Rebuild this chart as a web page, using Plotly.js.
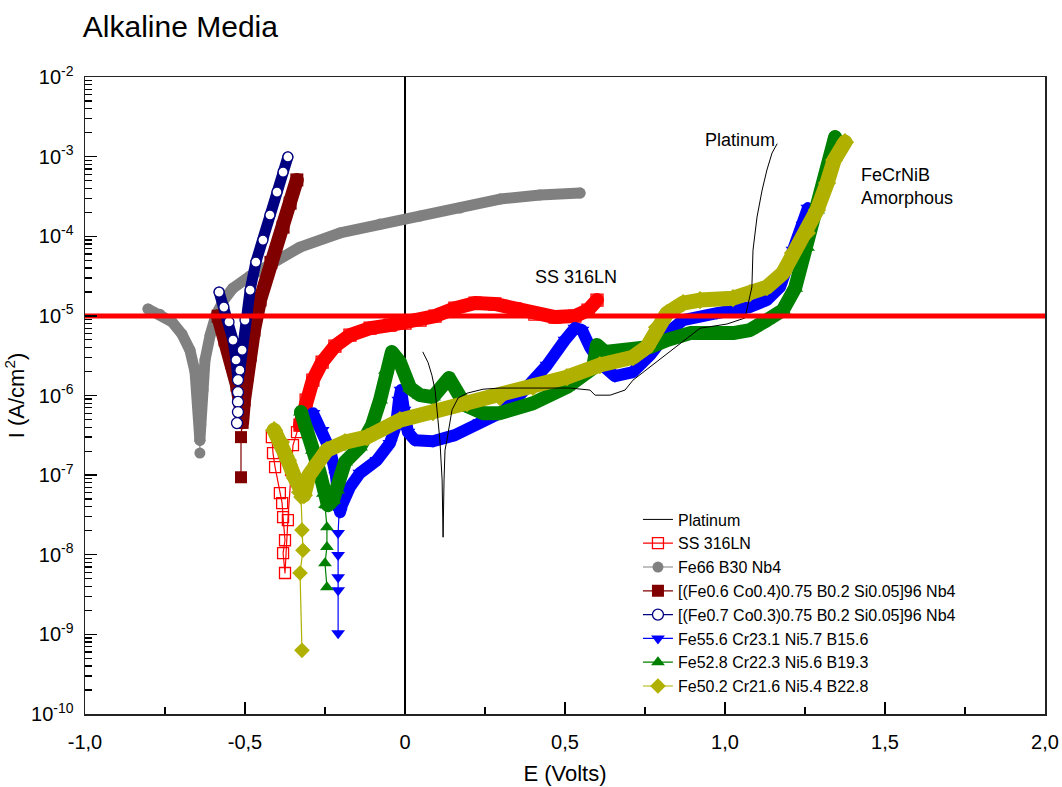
<!DOCTYPE html>
<html>
<head>
<meta charset="utf-8">
<script src="https://cdn.plot.ly/plotly-3.0.1.min.js"></script>
<style>
  html, body { margin: 0; padding: 0; background: #fff; }
  #chart { width: 1062px; height: 787px; }
  .scatterlayer .js-line { stroke-linejoin: round; stroke-linecap: round; }
</style>
</head>
<body>
<div id="chart"></div>
<script>
// ---------- data (E in volts, I in A/cm^2) ----------
const xTickVals = [-1, -0.5, 0, 0.5, 1, 1.5, 2];
const xTickText = ["-1,0", "-0,5", "0", "0,5", "1,0", "1,5", "2,0"];
const yTickVals = [1e-10, 1e-9, 1e-8, 1e-7, 1e-6, 1e-5, 1e-4, 1e-3, 1e-2];
const yTickText = ["10<sup>-10</sup>", "10<sup>-9</sup>", "10<sup>-8</sup>", "10<sup>-7</sup>", "10<sup>-6</sup>",
                   "10<sup>-5</sup>", "10<sup>-4</sup>", "10<sup>-3</sup>", "10<sup>-2</sup>"];

const seriesNames = ["Platinum", "SS 316LN", "Fe66 B30 Nb4",
  "[(Fe0.6 Co0.4)0.75 B0.2 Si0.05]96 Nb4", "[(Fe0.7 Co0.3)0.75 B0.2 Si0.05]96 Nb4",
  "Fe55.6 Cr23.1 Ni5.7 B15.6", "Fe52.8 Cr22.3 Ni5.6 B19.3", "Fe50.2 Cr21.6 Ni5.4 B22.8"];

// Platinum
const E_pt = [0.056,0.072,0.084,0.094,0.1,0.109,0.116,0.119,0.122,0.125,0.131,0.147,0.166,0.194,0.244,0.297,0.359,0.4375,0.516,0.578,0.594,0.641,0.6875,0.7125,0.8125,0.922,1.006,1.0625,1.084,1.0875,1.1,1.116,1.131,1.147,1.1625];
const I_pt = [3.5e-6,2.6e-6,1.8e-6,1.17e-6,6.6e-7,2.75e-7,8.7e-8,1.66e-8,8.7e-8,2.06e-7,2.75e-7,6.6e-7,9.3e-7,1.07e-6,1.2e-6,1.24e-6,1.24e-6,1.24e-6,1.24e-6,1.17e-6,1.01e-6,1.01e-6,1.17e-6,1.56e-6,3.2e-6,7.0e-6,7.9e-6,9.4e-6,2.3e-5,6.7e-5,1.74e-4,3.8e-4,6.8e-4,1.11e-3,1.44e-3];

// SS 316LN
const E_ss = [-0.328,-0.309,-0.288,-0.259,-0.219,-0.172,-0.109,-0.047,0,0.047,0.094,0.156,0.219,0.281,0.344,0.406,0.469,0.531,0.572,0.6];
const I_ss = [4.25e-7,8.75e-7,1.56e-6,2.63e-6,4.18e-6,5.74e-6,7.03e-6,7.66e-6,8.1e-6,8.85e-6,9.94e-6,1.25e-5,1.45e-5,1.41e-5,1.22e-5,1.05e-5,9.66e-6,9.94e-6,1.18e-5,1.58e-5];
const E_ss_tail = [-0.416,-0.4125,-0.406,-0.391,-0.384,-0.381,-0.375,-0.381,-0.375,-0.366,-0.356,-0.35,-0.3375,-0.328];
const I_ss_tail = [3.0e-7,1.89e-7,1.26e-7,5.94e-8,4.45e-8,2.96e-8,1.52e-8,1.05e-8,5.9e-9,2.72e-8,1.16e-7,2.38e-7,3.47e-7,4.25e-7];

// Fe66 B30 Nb4
const E_fe66 = [-0.803,-0.766,-0.728,-0.697,-0.672,-0.656,-0.647,-0.641,-0.641,-0.638,-0.631,-0.625,-0.609,-0.591,-0.566,-0.538,-0.484,-0.4,-0.328,-0.203,-0.078,0.047,0.172,0.297,0.422,0.547];
const I_fe66 = [1.22e-5,1.05e-5,8.4e-6,5.9e-6,3.7e-6,1.97e-6,8.8e-7,4.25e-7,2.75e-7,4.25e-7,1.17e-6,2.79e-6,5.7e-6,1.02e-5,1.58e-5,2.23e-5,3.16e-5,5.0e-5,7.3e-5,1.1e-4,1.42e-4,1.79e-4,2.26e-4,2.93e-4,3.3e-4,3.49e-4];
const E_fe66_tail = [-0.641,-0.641];
const I_fe66_tail = [2.75e-7,1.89e-7];

// [(Fe0.6 Co0.4)0.75 B0.2 Si0.05]96 Nb4
const E_co4 = [-0.584,-0.5625,-0.541,-0.525,-0.5125,-0.509,-0.503,-0.494,-0.484,-0.472,-0.453,-0.419,-0.381,-0.359,-0.338];
const I_co4 = [9.9e-6,5.0e-6,2.6e-6,1.35e-6,6.9e-7,4.6e-7,8.8e-7,1.8e-6,3.2e-6,6.6e-6,1.58e-5,4.7e-5,1.3e-4,2.6e-4,5.1e-4];
const E_co4_tail = [-0.509,-0.5125,-0.5125];
const I_co4_tail = [4.6e-7,3.0e-7,9.4e-8];

// [(Fe0.7 Co0.3)0.75 B0.2 Si0.05]96 Nb4
const E_co3 = [-0.581,-0.566,-0.55,-0.5375,-0.528,-0.522,-0.516,-0.509,-0.5,-0.484,-0.466,-0.444,-0.422,-0.4,-0.381,-0.366];
const I_co3 = [1.99e-5,1.29e-5,8.4e-6,4.97e-6,2.79e-6,1.56e-6,2.08e-6,3.72e-6,8.85e-6,2.11e-5,4.74e-5,8.95e-5,1.85e-4,3.59e-4,6.4e-4,9.9e-4];
const E_co3_tail = [-0.522,-0.522,-0.522,-0.522,-0.525];
const I_co3_tail = [1.56e-6,1.1e-6,8.3e-7,6.2e-7,4.5e-7];

// Fe55.6 Cr23.1 Ni5.7 B15.6
const E_b156 = [-0.2875,-0.259,-0.234,-0.216,-0.209,-0.203,-0.197,-0.1875,-0.172,-0.141,-0.0875,-0.047,-0.028,-0.019,-0.0125,-0.003,0.009,0.031,0.0875,0.156,0.234,0.297,0.344,0.391,0.444,0.5,0.531,0.553,0.578,0.616,0.656,0.7125,0.766,0.819,0.869,0.975,1.078,1.131,1.172,1.2125,1.244,1.259];
const I_b156 = [6.0e-7,3.67e-7,2.06e-7,1.0e-7,4.85e-8,3.43e-8,4.2e-8,5.6e-8,7.06e-8,1.06e-7,1.54e-7,2.52e-7,4.25e-7,8.75e-7,1.17e-6,6.56e-7,3.47e-7,2.75e-7,2.67e-7,3.18e-7,4.63e-7,6.0e-7,8.75e-7,1.35e-6,2.41e-6,4.97e-6,7.03e-6,6.64e-6,4.06e-6,2.41e-6,1.75e-6,1.97e-6,3.22e-6,6.08e-6,8.85e-6,1.08e-5,1.29e-5,1.58e-5,2.3e-5,6.7e-5,1.38e-4,2.26e-4];
const E_b156_tail = [-0.206,-0.209,-0.209,-0.209,-0.209,-0.209];
const I_b156_tail = [3.43e-8,1.87e-8,9.9e-9,5.2e-9,3.59e-9,1.03e-9];

// Fe52.8 Cr22.3 Ni5.6 B19.3
const E_b193 = [-0.325,-0.309,-0.2875,-0.266,-0.253,-0.241,-0.225,-0.2125,-0.1875,-0.141,-0.103,-0.078,-0.059,-0.041,-0.016,0.016,0.047,0.0875,0.1375,0.1875,0.244,0.297,0.4,0.506,0.5875,0.6,0.625,0.6875,0.766,0.819,0.891,1.025,1.078,1.131,1.181,1.219,1.256,1.2875,1.319,1.344];
const I_b193 = [6.2e-7,4.25e-7,2.06e-7,1.06e-7,5.94e-8,4.2e-8,4.85e-8,6.5e-8,1.46e-7,2.25e-7,4.25e-7,8.75e-7,2.08e-6,3.51e-6,2.63e-6,1.24e-6,1.01e-6,9.55e-7,1.66e-6,7.57e-7,6.0e-7,6.0e-7,8.0e-7,1.28e-6,2.21e-6,4.3e-6,3.51e-6,3.72e-6,4.06e-6,4.97e-6,6.08e-6,6.08e-6,6.64e-6,8.85e-6,1.18e-5,2.23e-5,7.3e-5,2.13e-4,6.2e-4,1.76e-3];
const E_b193_tail = [-0.25,-0.244,-0.244,-0.25,-0.244];
const I_b193_tail = [4.2e-8,2.22e-8,1.25e-8,7.8e-9,3.92e-9];

// Fe50.2 Cr21.6 Ni5.4 B22.8
const E_b228 = [-0.409,-0.3875,-0.366,-0.344,-0.328,-0.316,-0.3,-0.275,-0.244,-0.1875,-0.119,-0.016,0.0875,0.194,0.297,0.4,0.506,0.609,0.7125,0.756,0.7875,0.819,0.869,0.922,1.025,1.078,1.131,1.181,1.2125,1.256,1.2875,1.319,1.341,1.375];
const I_b228 = [3.67e-7,2.6e-7,1.54e-7,9.2e-8,6.1e-8,5.6e-8,1.0e-7,1.42e-7,2.06e-7,2.6e-7,3.0e-7,4.9e-7,6.2e-7,8.0e-7,9.55e-7,1.28e-6,1.7e-6,2.41e-6,3.03e-6,4.06e-6,7.2e-6,1.08e-5,1.45e-5,1.58e-5,1.67e-5,1.93e-5,2.3e-5,3.45e-5,6.15e-5,1.1e-4,2.13e-4,4.66e-4,9.06e-4,1.52e-3];
const E_b228_tail = [-0.325,-0.322,-0.319,-0.328,-0.322];
const I_b228_tail = [5.3e-8,2.04e-8,1.14e-8,5.9e-9,6.3e-10];

// 10 µA/cm² reference level
const E_limit = [-1, 2];
const I_limit = [1e-5, 1e-5];

// ---------- styling ----------
const FONT = "Liberation Sans, Arial, Helvetica, sans-serif";
const traces = [];

function addSeries(rank, name, E, I, Et, It, st) {
  const mk = {symbol: st.symbol, size: st.msize, color: st.mfill,
              line: {color: st.color, width: st.mlw}};
  traces.push({x: E, y: I, type: "scatter", mode: "lines+markers", name: name,
    legendgroup: name, showlegend: false, hoverinfo: "skip",
    line: {color: st.color, width: st.bw},
    marker: {symbol: st.symbol, size: st.bsize, color: st.bfill,
             line: {color: st.color, width: st.mlw}}});
  traces.push({x: Et, y: It, type: "scatter", mode: "lines+markers", name: name,
    legendgroup: name, legendrank: rank,
    line: {color: st.color, width: 1.2}, marker: mk});
}

addSeries(3, seriesNames[2], E_fe66, I_fe66, E_fe66_tail, I_fe66_tail,
  {color: "#808080", symbol: "circle", msize: 11, mfill: "#808080", mlw: 0, bw: 11, bsize: 11, bfill: "#808080"});
addSeries(4, seriesNames[3], E_co4, I_co4, E_co4_tail, I_co4_tail,
  {color: "#800000", symbol: "square", msize: 12, mfill: "#800000", mlw: 0, bw: 14, bsize: 13, bfill: "#800000"});
addSeries(5, seriesNames[4], E_co3, I_co3, E_co3_tail, I_co3_tail,
  {color: "#000080", symbol: "circle", msize: 11, mfill: "#ffffff", mlw: 1.3, bw: 11, bsize: 10, bfill: "#ffffff"});
addSeries(2, seriesNames[1], E_ss, I_ss, E_ss_tail, I_ss_tail,
  {color: "#ff0000", symbol: "square-open", msize: 11, mfill: "#ff0000", mlw: 1.3, bw: 14, bsize: 12, bfill: "#ff0000"});
addSeries(6, seriesNames[5], E_b156, I_b156, E_b156_tail, I_b156_tail,
  {color: "#0000ff", symbol: "triangle-down", msize: 12, mfill: "#0000ff", mlw: 0, bw: 12, bsize: 13, bfill: "#0000ff"});
addSeries(7, seriesNames[6], E_b193, I_b193, E_b193_tail, I_b193_tail,
  {color: "#008000", symbol: "triangle-up", msize: 12, mfill: "#008000", mlw: 0, bw: 14, bsize: 14, bfill: "#008000"});
addSeries(8, seriesNames[7], E_b228, I_b228, E_b228_tail, I_b228_tail,
  {color: "#b0b000", symbol: "diamond", msize: 12, mfill: "#b0b000", mlw: 0, bw: 15, bsize: 14, bfill: "#b0b000"});

traces.push({x: E_pt, y: I_pt, type: "scatter", mode: "lines", name: seriesNames[0],
  legendrank: 1, line: {color: "#000000", width: 1}});

traces.push({x: E_limit, y: I_limit, type: "scatter", mode: "lines", showlegend: false,
  hoverinfo: "skip", line: {color: "#ff0000", width: 5}});

const layout = {
  width: 1062, height: 787,
  margin: {l: 85, r: 17, t: 77, b: 73},
  paper_bgcolor: "#ffffff", plot_bgcolor: "#ffffff",
  font: {family: FONT, color: "#000000"},
  title: {text: "Alkaline Media", x: 0.078, xanchor: "left", xref: "container",
          y: 0.966, yanchor: "middle", yref: "container",
          font: {family: FONT, size: 30, color: "#000000"}},
  showlegend: true,
  legend: {x: 0.576, y: 0.332, xanchor: "left", yanchor: "top",
           bgcolor: "rgba(0,0,0,0)", borderwidth: 0, tracegroupgap: 0,
           font: {family: FONT, size: 16, color: "#000000"}},
  xaxis: {range: [-1, 2], tickmode: "array", tickvals: xTickVals, ticktext: xTickText,
          ticks: "inside", ticklen: 12, tickwidth: 1.3, tickcolor: "#000",
          minor: {dtick: 0.25, tick0: 0, ticks: "inside", ticklen: 7, tickwidth: 1.3, tickcolor: "#000"},
          showline: true, linecolor: "#222", linewidth: 1.5, mirror: true,
          showgrid: false, zeroline: true, zerolinecolor: "#000", zerolinewidth: 1.2,
          ticklabelstandoff: 9,
          tickfont: {family: FONT, size: 20, color: "#000"},
          title: {text: "E (Volts)", font: {family: FONT, size: 22, color: "#000"}, standoff: 14}},
  yaxis: {type: "log", range: [-10, -2], tickmode: "array", tickvals: yTickVals, ticktext: yTickText,
          ticks: "inside", ticklen: 12, tickwidth: 1.3, tickcolor: "#000",
          minor: {dtick: "D1", ticks: "inside", ticklen: 7, tickwidth: 1.3, tickcolor: "#000"},
          showline: true, linecolor: "#222", linewidth: 1.5, mirror: true,
          showgrid: false, zeroline: false,
          ticklabelstandoff: 6,
          tickfont: {family: FONT, size: 20, color: "#000"},
          title: {text: "I (A/cm<sup>2</sup>)", font: {family: FONT, size: 22, color: "#000"}, standoff: 0}},
  annotations: [
    {x: 0.4, y: -4.51, xref: "x", yref: "y", text: "SS 316LN", showarrow: false,
     xanchor: "left", yanchor: "middle", font: {family: FONT, size: 18, color: "#000"}},
    {x: 0.931, y: -2.79, xref: "x", yref: "y", text: "Platinum", showarrow: false,
     xanchor: "left", yanchor: "middle", font: {family: FONT, size: 18, color: "#000"}},
    {x: 1.419, y: -3.38, xref: "x", yref: "y", text: "FeCrNiB<br>Amorphous", showarrow: false,
     xanchor: "left", yanchor: "middle", align: "left", font: {family: FONT, size: 18, color: "#000"}}
  ]
};

Plotly.newPlot("chart", traces, layout, {displayModeBar: false, staticPlot: true});
</script>
</body>
</html>
